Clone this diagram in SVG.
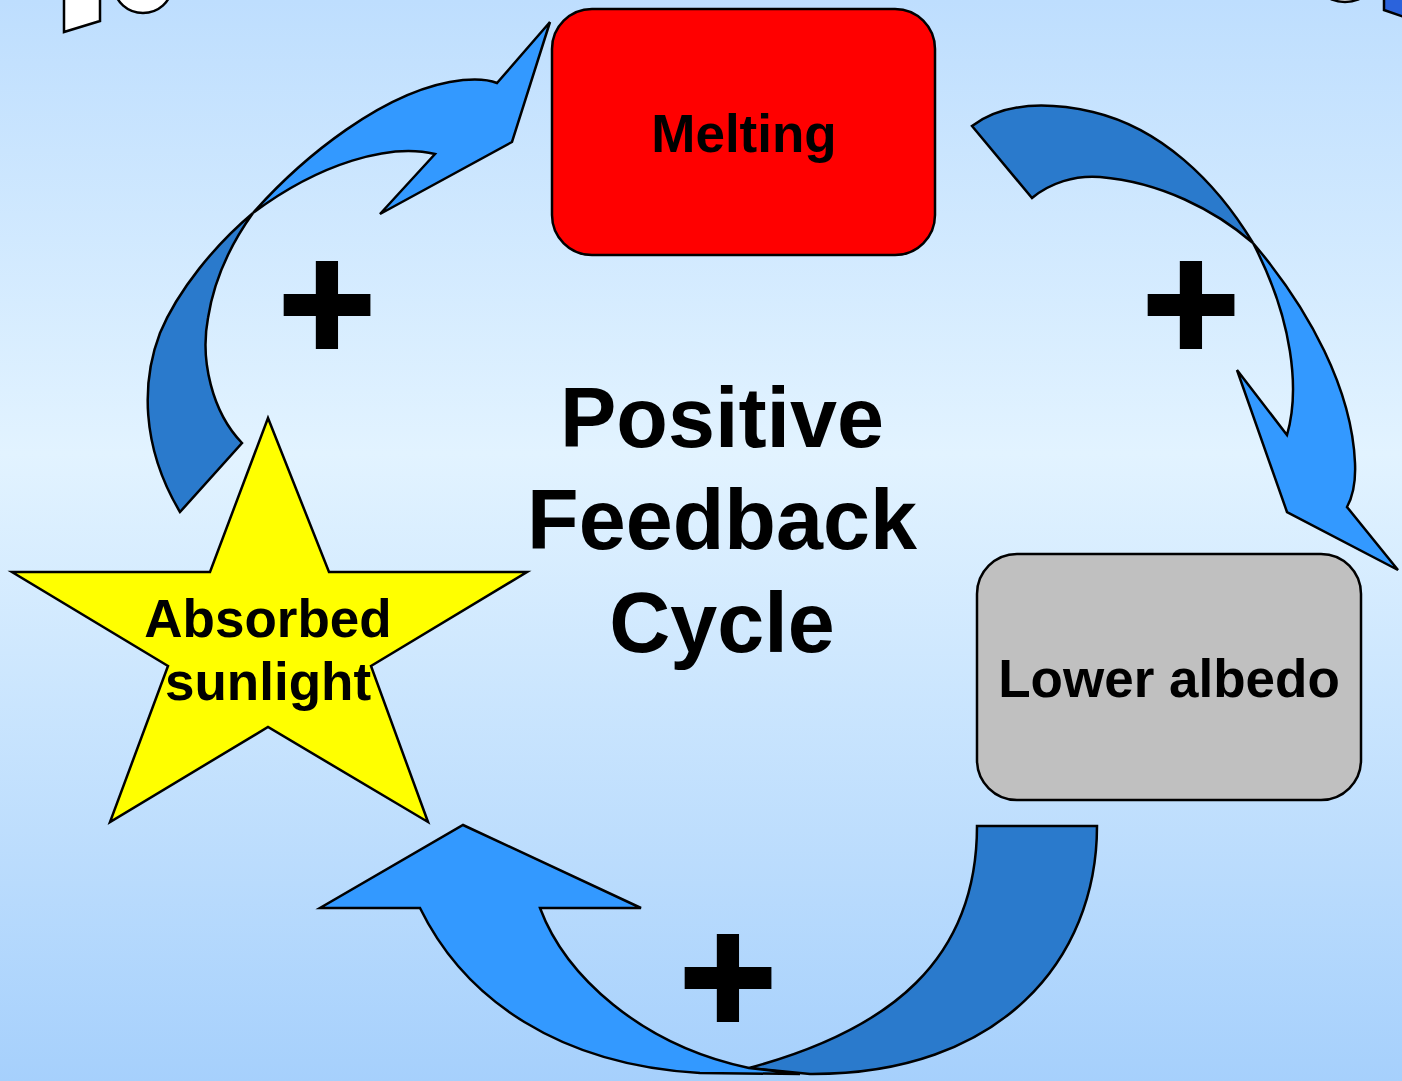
<svg xmlns="http://www.w3.org/2000/svg" width="1402" height="1081" viewBox="0 0 1402 1081">
<defs>
<linearGradient id="bg" x1="0" y1="0" x2="0" y2="1">
<stop offset="0" stop-color="#BEDEFE"/>
<stop offset="0.42" stop-color="#E2F3FF"/>
<stop offset="1" stop-color="#A6D0FC"/>
</linearGradient>
</defs>
<style>
.lbl{font-family:"Liberation Sans",Arial,sans-serif;font-weight:bold;fill:#000;text-anchor:middle}
.box{stroke:#000;stroke-width:2.5}
.dark{fill:#2A7ACC;stroke:#000;stroke-width:2.5;stroke-linejoin:miter}
.light{fill:#3399FF;stroke:#000;stroke-width:2.5;stroke-linejoin:miter}
.plus{font-family:"Liberation Sans",Arial,sans-serif;font-weight:bold;font-size:165px;fill:#000;stroke:#000;stroke-width:4;text-anchor:middle}
</style>
<rect x="0" y="0" width="1402" height="1081" fill="url(#bg)"/>
<g id="fragments">
<polygon points="64,-2 64,32 100,21 100,-2" fill="#FFFFFF" stroke="#000" stroke-width="2.5"/>
<ellipse cx="143" cy="-12" rx="28" ry="25" fill="#FFFFFF" stroke="#000" stroke-width="2.5"/>
<ellipse cx="1345" cy="-6" rx="18" ry="8" fill="#FFFFFF" stroke="#000" stroke-width="2.5"/>
<polygon points="1384,-2 1384,10 1404,17 1404,-2" fill="#2B63DC" stroke="#000" stroke-width="2.5"/>
</g>
<g id="connectors">
<g id="arrow-sunlight-melting">
<path class="dark" d="M180,512 L242,443 C212,412 200,360 208,318 C214,280 230,245 253,213 C215,245 178,290 160,333 C142,380 140,445 180,512 Z"/>
<path class="light" d="M253,213 C300,160 385,88 463,80 Q485,78 497,83 L550,22 L512,142 L380,214 L435,154 C390,143 320,163 253,213 Z"/>
</g>
<g id="arrow-melting-albedo">
<path class="dark" d="M972,126 C1000,105 1040,100 1093,112 C1160,128 1215,180 1253,243 C1215,210 1160,182 1100,177 C1075,175 1050,183 1032,198 Z"/>
<path class="light" d="M1253,243 C1310,310 1352,390 1355,463 C1356,485 1352,498 1347,507 L1398,570 L1287,512 L1237,370 L1287,435 C1300,390 1293,320 1253,243 Z"/>
</g>
<g id="arrow-albedo-sunlight">
<path class="dark" d="M977,826 L1097,826 C1097,960 1000,1075 810,1074 L749,1068 C890,1030 977,960 977,826 Z"/>
<path class="light" d="M463,825 L641,908 L540,908 C565,975 640,1045 749,1068 L800,1074 L700,1073 C560,1065 465,1000 420,908 L320,908 Z"/>
</g>
</g>
<g id="node-melting">
<rect class="box" x="552" y="9" width="383" height="246" rx="40" fill="#FF0000"/>
<text class="lbl" x="744" y="152" font-size="53">Melting</text>
</g>
<g id="node-albedo">
<rect class="box" x="977" y="554" width="384" height="246" rx="40" fill="#C0C0C0"/>
<text class="lbl" x="1169" y="697" font-size="53">Lower albedo</text>
</g>
<g id="node-sunlight">
<polygon class="box" fill="#FFFF00" points="268,418 329,572 527,572 371,666 428,822 268,727 110,822 168,666 12,572 210,572"/>
<text class="lbl" x="268" y="637" font-size="53">Absorbed</text>
<text class="lbl" x="268" y="700" font-size="53">sunlight</text>
</g>
<g id="title">
<text class="lbl" x="722" y="447" font-size="84.5">Positive</text>
<text class="lbl" x="722" y="549" font-size="84.5">Feedback</text>
<text class="lbl" x="722" y="652" font-size="84.5">Cycle</text>
</g>
<g id="plus-signs">
<text class="plus" x="327" y="360">+</text>
<text class="plus" x="1191" y="360">+</text>
<text class="plus" x="728" y="1033">+</text>
</g>
</svg>
